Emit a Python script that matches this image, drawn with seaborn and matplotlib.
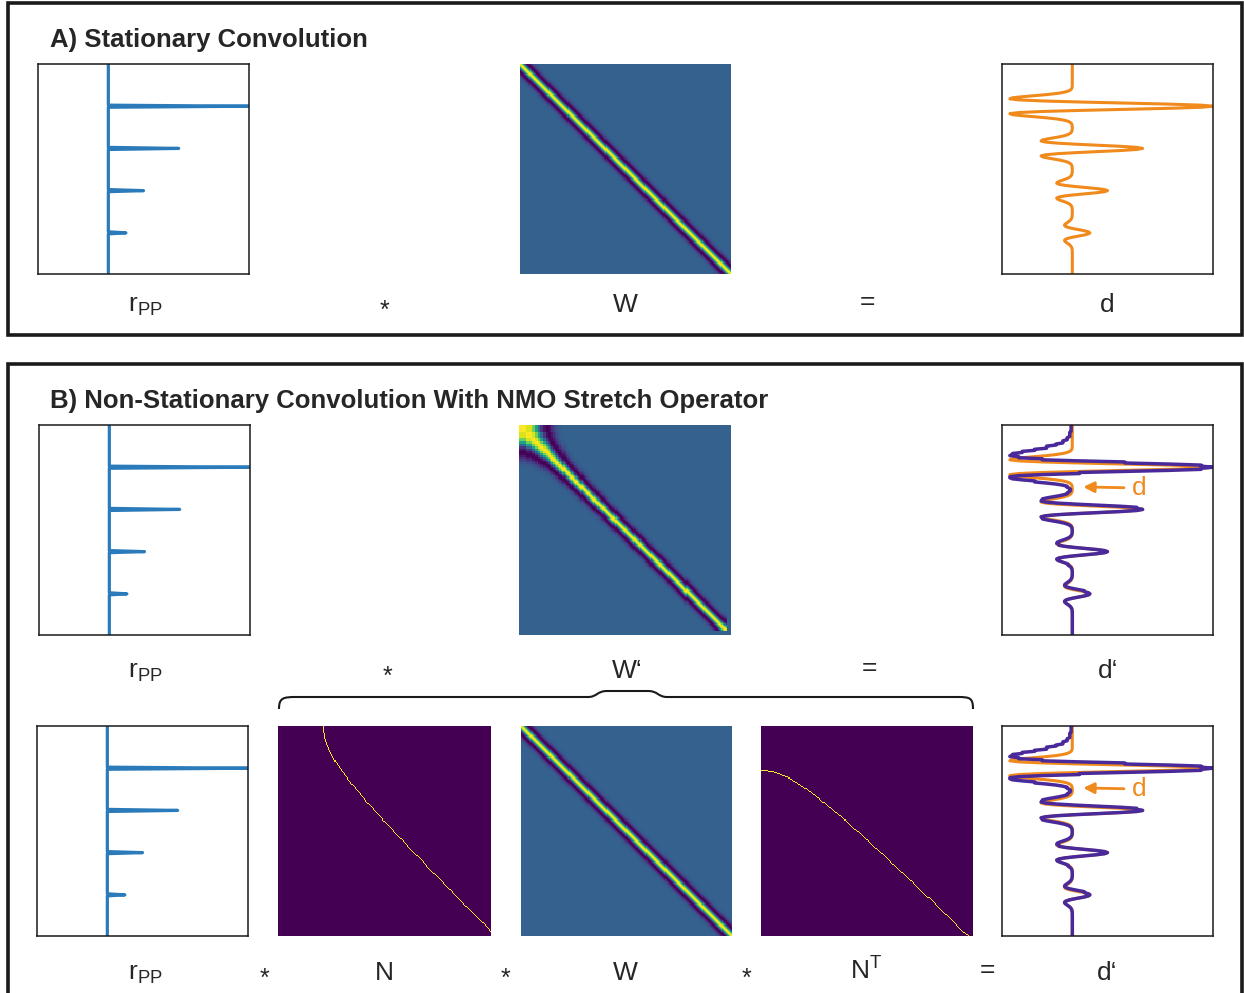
import numpy as np
import matplotlib
matplotlib.use("Agg")
import matplotlib.pyplot as plt
import seaborn as sns
from matplotlib.patches import Rectangle, PathPatch
from matplotlib.path import Path

# ---------------------------------------------------------------------------
# Model parameters
# ---------------------------------------------------------------------------
n_samples = 200            # samples per trace
dt = 0.002                 # sample interval [s]
spike_samples = [40, 80, 120, 160]
spike_amplitudes = [1.0, 0.5, 0.25, 0.125]
ricker_peak_hz = 27.0
ricker_half_len = 30       # samples each side of the wavelet centre
offset_m = 210.0           # source-receiver offset for the NMO operator
velocity_ms = 2500.0       # NMO velocity

panel_titles = ["A) Stationary Convolution",
                "B) Non-Stationary Convolution With NMO Stretch Operator"]
row_a_labels = [r"$\mathregular{r_{PP}}$", "*", "W", "=", "d"]
row_b1_labels = [r"$\mathregular{r_{PP}}$", "*", "W\u2018", "=", "d\u2018"]
row_b2_labels = [r"$\mathregular{r_{PP}}$", "*", "N", "*", "W", "*",
                 r"$\mathregular{N^{T}}$", "=", "d\u2018"]
arrow_label = "d"

# ---------------------------------------------------------------------------
# Operators and traces
# ---------------------------------------------------------------------------
sample_idx = np.arange(n_samples)

r_pp = np.zeros(n_samples)
r_pp[spike_samples] = spike_amplitudes

t_w = np.arange(-ricker_half_len, ricker_half_len + 1) * dt
arg = (np.pi * ricker_peak_hz * t_w) ** 2
wavelet = (1.0 - 2.0 * arg) * np.exp(-arg)

# stationary convolution matrix W[i, j] = w(i - j)
W = np.zeros((n_samples, n_samples))
for k, w in enumerate(wavelet):
    W += w * np.eye(n_samples, k=k - ricker_half_len)

# NMO operator: row = zero-offset time t0, column = recorded time t
t0 = sample_idx * dt
t_nmo = np.sqrt(t0 ** 2 + (offset_m / velocity_ms) ** 2)
k_nmo = np.rint(t_nmo / dt).astype(int)
N = np.zeros((n_samples, n_samples))
valid = k_nmo < n_samples
N[sample_idx[valid], k_nmo[valid]] = 1.0

W_ns = N @ W @ N.T          # non-stationary (stretched) wavelet matrix
d = W @ r_pp
d_ns = W_ns @ r_pp

w_min, w_max = wavelet.min(), wavelet.max()

# ---------------------------------------------------------------------------
# Figure
# ---------------------------------------------------------------------------
sns.set_style("white")
plt.rcParams["font.family"] = ["Liberation Sans", "DejaVu Sans"]
plt.rcParams["mathtext.default"] = "regular"

FW, FH = 1244, 993
fig = plt.figure(figsize=(FW / 100, FH / 100), dpi=100)
fig.patch.set_facecolor("white")

BLUE = "#2b7bba"
ORANGE = "#f08a1c"
PURPLE = "#4a2a9a"
FRAME = "#1a1a1a"


def rect(x0, y0, x1, y1):
    return [x0 / FW, 1 - y1 / FH, (x1 - x0) / FW, (y1 - y0) / FH]


def fx(x):
    return x / FW


def fy(y):
    return 1 - y / FH


def finish_trace(ax):
    ax.set_xlim(-0.5, 1.0)
    ax.set_ylim(n_samples - 1, 0)
    ax.set(xticks=[], yticks=[], xlabel="", ylabel="")
    for s in ax.spines.values():
        s.set_visible(True)
        s.set_linewidth(1.1)
        s.set_color(FRAME)


def draw_reflectivity(box):
    ax = fig.add_axes(rect(*box))
    sns.lineplot(x=r_pp, y=sample_idx, ax=ax, color=BLUE, linewidth=2.3,
                 estimator=None, sort=False, orient="y")
    finish_trace(ax)
    return ax


def draw_data(box, stretched=False):
    ax = fig.add_axes(rect(*box))
    sns.lineplot(x=d, y=sample_idx, ax=ax, color=ORANGE, linewidth=2.2,
                 estimator=None, sort=False, orient="y")
    if stretched:
        sns.lineplot(x=d_ns, y=sample_idx, ax=ax, color=PURPLE, linewidth=2.5,
                     estimator=None, sort=False, orient="y")
        ax.annotate(arrow_label, xy=(0.385, 0.705), xytext=(0.648, 0.70),
                    xycoords="axes fraction", textcoords="axes fraction",
                    color=ORANGE, fontsize=19, ha="center", va="center",
                    arrowprops=dict(arrowstyle="-|>", color=ORANGE, lw=2.0,
                                    shrinkA=3, shrinkB=0, mutation_scale=16))
    finish_trace(ax)
    return ax


def draw_matrix(box, mat, vmin, vmax):
    ax = fig.add_axes(rect(*box))
    sns.heatmap(mat, ax=ax, cmap="viridis", vmin=vmin, vmax=vmax, cbar=False,
                xticklabels=False, yticklabels=False, rasterized=True)
    ax.set(xticks=[], yticks=[], xlabel="", ylabel="")
    for s in ax.spines.values():
        s.set_visible(False)
    return ax


def draw_labels(labels, xs, baseline):
    for lab, x in zip(labels, xs):
        if lab == "*":
            fig.text(fx(x), fy(baseline + 6), lab, fontsize=18,
                     ha="center", va="baseline")
        elif lab == "=":
            fig.text(fx(x), fy(baseline - 3), lab, fontsize=19,
                     ha="center", va="baseline")
        else:
            fig.text(fx(x), fy(baseline), lab, fontsize=19,
                     ha="center", va="baseline")


# panel frames
fig.add_artist(Rectangle((fx(8), fy(335)), fx(1242) - fx(8), fy(3) - fy(335),
                         transform=fig.transFigure, fill=False,
                         edgecolor=FRAME, linewidth=2.6))
fig.add_artist(Rectangle((fx(8), fy(1005)), fx(1242) - fx(8), fy(364) - fy(1005),
                         transform=fig.transFigure, fill=False,
                         edgecolor=FRAME, linewidth=2.6))

fig.text(fx(50), fy(47), panel_titles[0], fontsize=18.5, fontweight="bold",
         ha="left", va="baseline")
fig.text(fx(50), fy(408), panel_titles[1], fontsize=18.5, fontweight="bold",
         ha="left", va="baseline")

# --- A) stationary convolution ---
draw_reflectivity((38, 64, 249, 274))
draw_matrix((520, 64, 731, 274), W, w_min, w_max)
draw_data((1002, 64, 1213, 274))
draw_labels(row_a_labels, [145, 384, 625, 867, 1107], 312)

# --- B) non-stationary convolution, compact form ---
draw_reflectivity((39, 425, 250, 635))
draw_matrix((519, 425, 731, 635), W_ns, w_min, w_max)
draw_data((1002, 425, 1213, 635), stretched=True)
draw_labels(row_b1_labels, [145, 387, 627, 869, 1108], 678)

# --- B) non-stationary convolution, factorised form ---
draw_reflectivity((37, 726, 248, 936))
draw_matrix((278, 726, 491, 936), N, 0.0, 1.0)
draw_matrix((521, 726, 732, 936), W, w_min, w_max)
draw_matrix((761, 726, 973, 936), N.T, 0.0, 1.0)
draw_data((1002, 726, 1213, 936), stretched=True)
draw_labels(row_b2_labels, [145, 264, 384, 505, 625, 746, 866, 987, 1107], 980)

# curly brace grouping N * W * N^T under W'
yb_end, yb_mid, yb_tip = 709, 697, 691
brace_px = [
    ((279, yb_end), Path.MOVETO),
    ((279, yb_mid + 1), Path.CURVE4), ((283, yb_mid), Path.CURVE4), ((296, yb_mid), Path.CURVE4),
    ((588, yb_mid), Path.LINETO),
    ((597, yb_mid), Path.CURVE4), ((597, yb_tip), Path.CURVE4), ((607, yb_tip), Path.CURVE4),
    ((648, yb_tip), Path.LINETO),
    ((658, yb_tip), Path.CURVE4), ((658, yb_mid), Path.CURVE4), ((667, yb_mid), Path.CURVE4),
    ((958, yb_mid), Path.LINETO),
    ((970, yb_mid), Path.CURVE4), ((973, yb_mid + 1), Path.CURVE4), ((973, yb_end), Path.CURVE4),
]
verts = [(fx(x), fy(y)) for (x, y), _ in brace_px]
codes = [c for _, c in brace_px]
fig.add_artist(PathPatch(Path(verts, codes), transform=fig.transFigure,
                         fill=False, edgecolor=FRAME, linewidth=1.5))

fig.savefig("out.png", dpi=100, facecolor="white")
